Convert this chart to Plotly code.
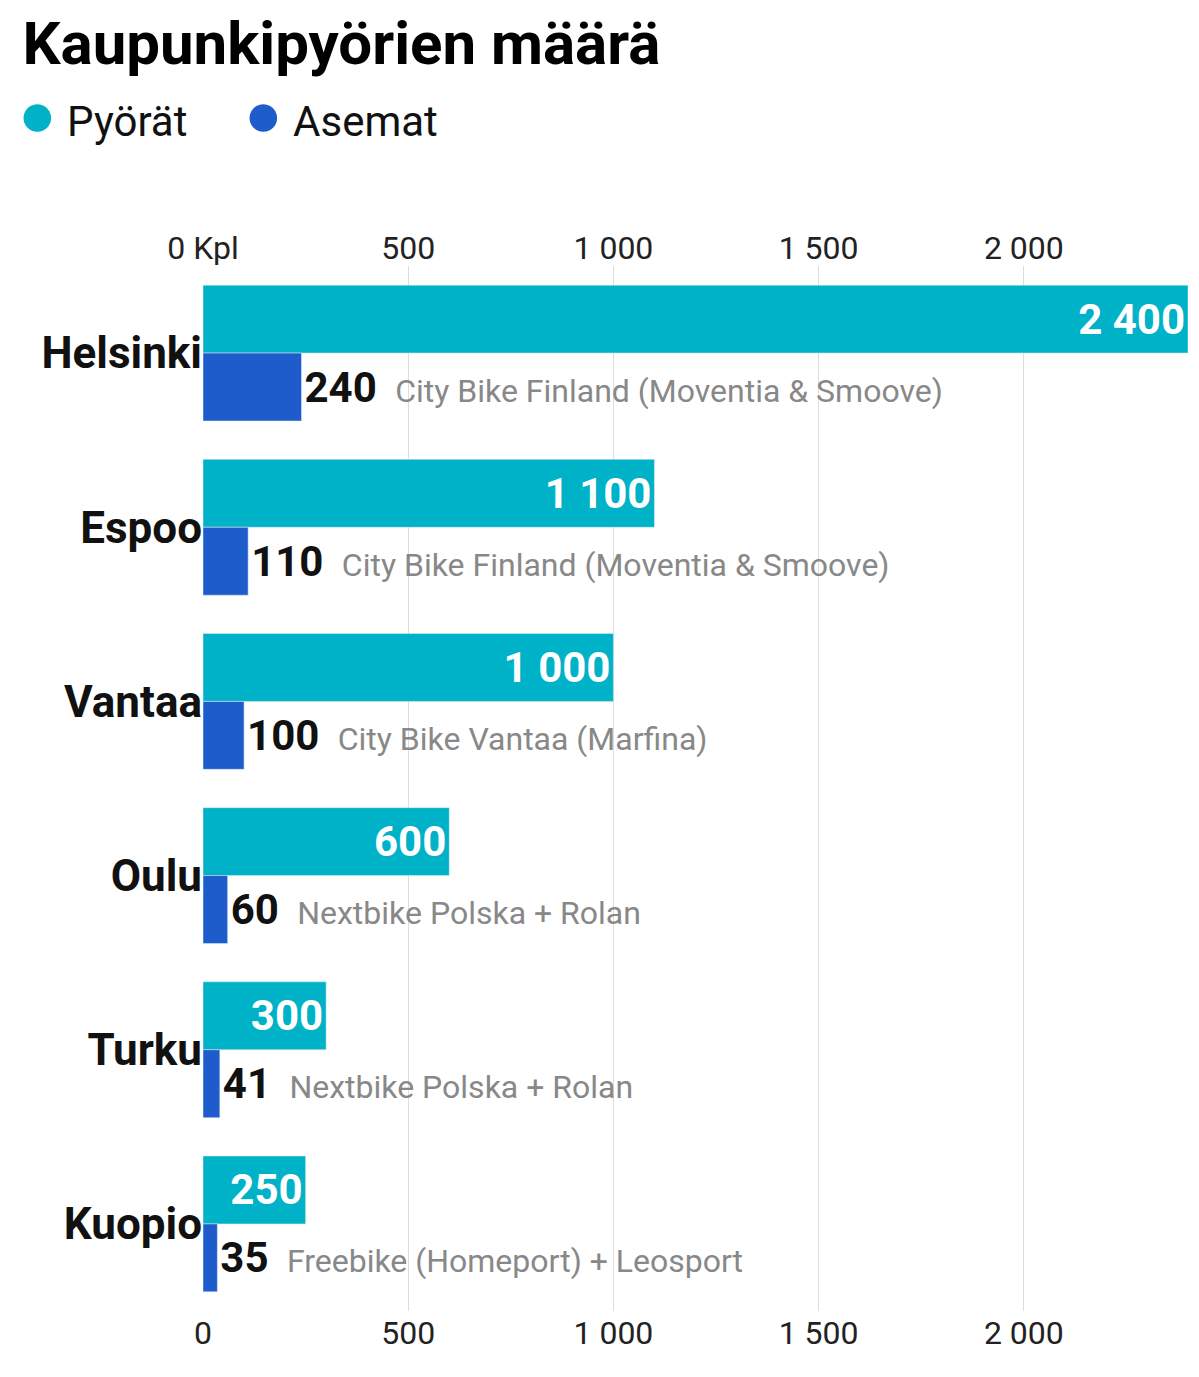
import plotly.graph_objects as go

cities = ["Helsinki", "Espoo", "Vantaa", "Oulu", "Turku", "Kuopio"]
bikes = [2400, 1100, 1000, 600, 300, 250]
stations = [240, 110, 100, 60, 41, 35]
operators = ["City Bike Finland (Moventia & Smoove)", "City Bike Finland (Moventia & Smoove)",
             "City Bike Vantaa (Marfina)", "Nextbike Polska + Rolan", "Nextbike Polska + Rolan",
             "Freebike (Homeport) + Leosport"]
tickvals = [0, 500, 1000, 1500, 2000]
top_labels = ["0 Kpl", "500", "1 000", "1 500", "2 000"]
bottom_labels = ["0", "500", "1 000", "1 500", "2 000"]

def fmt(v):
    return f"{v:,}".replace(",", " ")

FONT = "Roboto, sans-serif"
CYAN = "#00b2c8"
BLUE = "#1e5ccc"

fig = go.Figure()
fig.add_trace(go.Bar(y=cities, x=bikes, orientation="h", name="Pyörät", marker_color=CYAN,
                     text=[f"<b>{fmt(v)}</b>" for v in bikes], textposition="inside",
                     insidetextanchor="end", textfont=dict(color="white", size=42, family=FONT),
                     cliponaxis=False))
fig.add_trace(go.Bar(y=cities, x=stations, orientation="h", name="Asemat", marker_color=BLUE,
                     text=[f"<b>{v}</b> <span style='color:#888888;font-size:32px'> {o}</span>"
                           for v, o in zip(stations, operators)],
                     textposition="outside", textfont=dict(color="#111111", size=42, family=FONT),
                     cliponaxis=False))
fig.add_trace(go.Bar(y=cities, x=[None]*6, orientation="h", xaxis="x2", showlegend=False))

fig.update_layout(
    width=1199, height=1377, plot_bgcolor="white", paper_bgcolor="white",
    margin=dict(l=195, r=19, t=258, b=74, autoexpand=False),
    barmode="group", bargap=0.22, bargroupgap=0, showlegend=False,
    xaxis=dict(range=[0, 2400], tickvals=tickvals, ticktext=bottom_labels, showgrid=True,
               gridcolor="#dddddd", zeroline=True, zerolinecolor="#bbbbbb", zerolinewidth=2,
               tickfont=dict(size=32, family=FONT, color="#222222"), ticks=""),
    xaxis2=dict(range=[0, 2400], overlaying="x", side="top", tickvals=tickvals, ticktext=top_labels,
                showgrid=False, tickfont=dict(size=32, family=FONT, color="#222222"), ticks=""),
    yaxis=dict(autorange="reversed", tickfont=dict(size=44, family=FONT, color="#111111"),
               tickvals=cities, ticktext=[f"<b>{c}</b>" for c in cities],
               ticks="", ticksuffix="  "),
    title=dict(text="<b>Kaupunkipyörien määrä</b>", x=0.012, xanchor="left", y=0.99, yanchor="top",
               font=dict(size=60, family=FONT, color="black")),
    annotations=[
        dict(text=f"<span style='color:{CYAN};font-size:64px'>●</span> Pyörät", xref="paper", yref="paper",
             x=-0.19, y=1.145, xanchor="left", yanchor="middle", showarrow=False,
             font=dict(size=42, family=FONT, color="#111111")),
        dict(text=f"<span style='color:{BLUE};font-size:64px'>●</span> Asemat", xref="paper", yref="paper",
             x=0.04, y=1.145, xanchor="left", yanchor="middle", showarrow=False,
             font=dict(size=42, family=FONT, color="#111111")),
    ],
)
fig.write_html("out.html")
